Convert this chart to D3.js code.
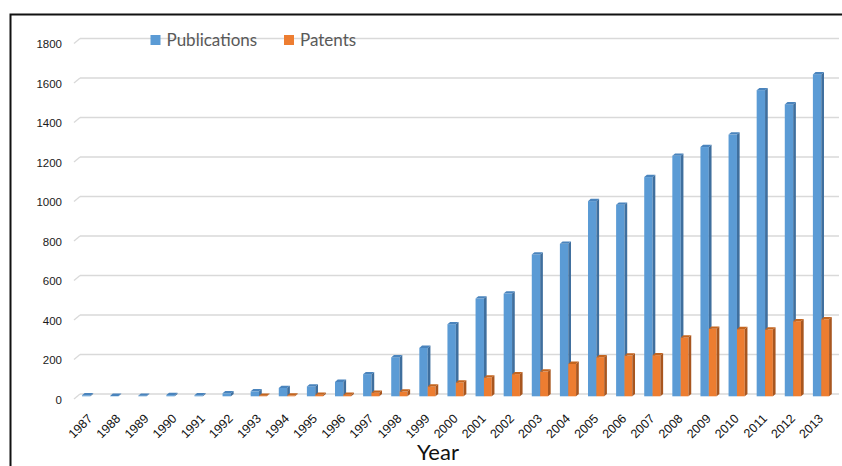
<!DOCTYPE html>
<html>
<head>
<meta charset="utf-8">
<script src="https://cdn.jsdelivr.net/npm/d3@7"></script>
<style>
  html, body { margin: 0; padding: 0; background: #fff; }
  svg { display: block; }
</style>
</head>
<body>
<svg id="chart" width="842" height="466"></svg>
<script>
// Yearly counts of publications and patents
const years = ["1987","1988","1989","1990","1991","1992","1993","1994","1995","1996","1997","1998","1999",
  "2000","2001","2002","2003","2004","2005","2006","2007","2008","2009","2010","2011","2012","2013"];
const publications = [5, 2, 3, 6, 5, 15, 25, 42, 50, 73, 112, 197, 245,
  365, 495, 520, 718, 772, 988, 970, 1110, 1218, 1262, 1325, 1550, 1478, 1630];
const patents = [0, 0, 0, 0, 0, 0, 3, 4, 8, 8, 18, 24, 50,
  70, 95, 112, 125, 164, 198, 206, 208, 298, 342, 340, 338, 380, 390];
const yTicks = [0, 200, 400, 600, 800, 1000, 1200, 1400, 1600, 1800];
const seriesNames = ["Publications", "Patents"];

const svg = d3.select("#chart");

// outer frame
svg.append("rect")
  .attr("x", 10.5).attr("y", 14.5)
  .attr("width", 845).attr("height", 470)
  .attr("fill", "none").attr("stroke", "#111").attr("stroke-width", 2);

const plotLeft = 80, plotRight = 839;
const x = d3.scaleBand().domain(years).range([plotLeft, plotRight]).padding(0);
const y = d3.scaleLinear().domain([0, 1800]).range([394, 38.5]);

// 3D depth offsets
const dx = 2.7, dy = 2.3;
const floorDx = 6, floorDy = 5;

// gridlines on the back wall with the floor/wall edge
const grid = svg.append("g");
yTicks.forEach(t => {
  grid.append("line")
    .attr("x1", plotLeft).attr("x2", plotRight)
    .attr("y1", y(t)).attr("y2", y(t))
    .attr("stroke", "#d9d9d9").attr("stroke-width", 1.3);
  grid.append("line")
    .attr("x1", plotLeft - floorDx).attr("y1", y(t) + floorDy)
    .attr("x2", plotLeft).attr("y2", y(t))
    .attr("stroke", "#d9d9d9").attr("stroke-width", 1.3);
});

// y axis labels
const yAxis = d3.axisLeft(y).tickValues(yTicks).tickFormat(d3.format("d")).tickSize(0).tickPadding(0);
const yG = svg.append("g").attr("transform", "translate(62,5.5)").call(yAxis);
yG.select(".domain").remove();
yG.selectAll("text")
  .attr("font-family", "'Liberation Sans', Arial, sans-serif")
  .attr("font-size", 11.5).attr("fill", "#1a1a1a");

// bars
const series = [
  { values: publications, front: "#5b9bd5", side: "#3f6f9e", top: "#4a84bd", off: 2, w: 8.4 },
  { values: patents, front: "#ed7d31", side: "#a8561f", top: "#c4651f", off: 10.4, w: 7.8 }
];
const baseY = y(0) + dy;
series.forEach(s => {
  const g = svg.append("g");
  years.forEach((yr, i) => {
    const v = s.values[i];
    if (v <= 0) return;
    const x0 = x(yr) + s.off, x1 = x0 + s.w;
    const yt = y(v) + dy;
    // front face
    g.append("rect")
      .attr("x", x0).attr("y", yt).attr("width", s.w).attr("height", Math.max(0, baseY - yt))
      .attr("fill", s.front);
    // side face
    g.append("path")
      .attr("d", `M${x1},${yt}L${x1 + dx},${yt - dy}L${x1 + dx},${baseY - dy}L${x1},${baseY}Z`)
      .attr("fill", s.side);
    // top face
    g.append("path")
      .attr("d", `M${x0},${yt}L${x0 + dx},${yt - dy}L${x1 + dx},${yt - dy}L${x1},${yt}Z`)
      .attr("fill", s.top);
  });
});

// x axis labels, rotated
const xAxis = d3.axisBottom(x).tickSize(0).tickPadding(0);
const xG = svg.append("g").attr("transform", `translate(0,${baseY + 20})`).call(xAxis);
xG.select(".domain").remove();
xG.selectAll("text")
  .attr("font-family", "'Liberation Sans', Arial, sans-serif")
  .attr("font-size", 12.5).attr("fill", "#111")
  .attr("text-anchor", "end")
  .attr("dy", "0.35em")
  .attr("transform", "translate(-4,0) rotate(-45)");

// axis title
svg.append("text")
  .attr("x", 438).attr("y", 460)
  .attr("text-anchor", "middle")
  .attr("font-family", "Lato, 'Open Sans', sans-serif")
  .attr("font-size", 22).attr("fill", "#111")
  .text("Year");

// legend
const legendX = [150.5, 284];
const legendColors = ["#5b9bd5", "#ed7d31"];
seriesNames.forEach((name, i) => {
  svg.append("rect")
    .attr("x", legendX[i]).attr("y", 35).attr("width", 10).attr("height", 10)
    .attr("fill", legendColors[i]);
  svg.append("text")
    .attr("x", legendX[i] + 16).attr("y", 46)
    .attr("font-family", "Lato, 'Open Sans', sans-serif")
    .attr("font-size", 17).attr("fill", "#595959")
    .text(name);
});
</script>
</body>
</html>
